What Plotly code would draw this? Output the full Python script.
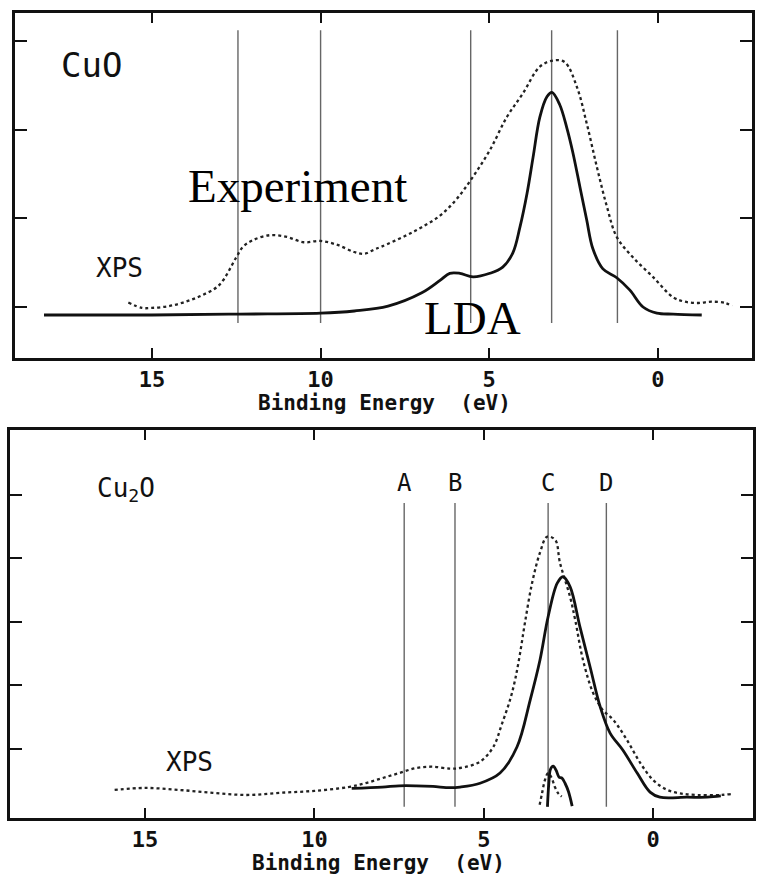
import plotly.graph_objects as go

# ---------------- CuO (top panel) ----------------
cuo_lda_e = [18.2, 15.0, 12.4, 10.0, 9.0, 8.0, 7.0, 6.46, 6.17, 5.87, 5.48, 4.98, 4.6, 4.3, 4.09, 3.88, 3.7, 3.5,
             3.29, 3.14, 2.91, 2.7, 2.52, 2.31, 2.11, 1.93, 1.63, 1.22, 0.83, 0.44, 0.03, -0.45, -1.3]
cuo_lda_i = [0.91, 0.91, 0.92, 0.93, 0.955, 1.01, 1.16, 1.30, 1.38, 1.38, 1.34, 1.38, 1.45, 1.61, 1.90, 2.28, 2.69, 3.14,
             3.37, 3.42, 3.28, 3.02, 2.74, 2.35, 1.98, 1.66, 1.43, 1.33, 1.19, 1.0, 0.93, 0.92, 0.91]

cuo_xps_e = [15.7, 15.3, 15.0, 14.5, 14.0, 13.5, 13.0, 12.5, 12.3, 12.0, 11.5, 11.0, 10.5, 10.0, 9.5, 9.0, 8.7, 8.4,
             8.2, 7.5, 7.0, 6.46, 5.96, 5.48, 4.98, 4.48, 4.0, 3.5, 3.1, 2.76, 2.4, 2.11, 1.81, 1.51, 1.22, 0.74,
             0.15, -0.45, -0.8, -1.2, -1.6, -2.0, -2.2]
cuo_xps_i = [1.05, 0.99, 0.99, 1.01, 1.06, 1.135, 1.25, 1.56, 1.68, 1.755, 1.81, 1.79, 1.73, 1.745, 1.70, 1.62, 1.60, 1.65,
             1.68, 1.80, 1.90, 2.03, 2.22, 2.47, 2.77, 3.14, 3.41, 3.71, 3.78, 3.76, 3.48, 3.07, 2.58, 2.13, 1.79, 1.56,
             1.34, 1.11, 1.06, 1.045, 1.06, 1.045, 1.01]

cuo_lines = [12.45, 10.0, 5.55, 3.15, 1.2]

# ---------------- Cu2O (bottom panel) ----------------
cu2o_xps_e = [15.9, 15.0, 14.0, 13.0, 12.0, 11.0, 10.0, 9.0, 8.5, 8.0, 7.5, 7.0, 6.5, 6.0, 5.7, 5.11, 4.72, 4.46,
              4.22, 4.07, 3.93, 3.78, 3.57, 3.34, 3.13, 2.89, 2.75, 2.45, 2.30, 2.07, 1.77, 1.48, 1.18, 0.77, 0.38,
              0.0, -0.4, -0.8, -1.3, -2.0, -2.3]
cu2o_xps_i = [0.355, 0.386, 0.355, 0.31, 0.275, 0.31, 0.34, 0.40, 0.46, 0.54, 0.62, 0.70, 0.72, 0.69, 0.70, 0.80, 1.03,
              1.40, 1.78, 2.10, 2.50, 3.00, 3.62, 4.09, 4.34, 4.29, 3.93, 3.39, 3.03, 2.40, 1.88, 1.61, 1.46, 1.14,
              0.78, 0.51, 0.36, 0.30, 0.275, 0.275, 0.29]

cu2o_lda_e = [8.9, 8.0, 7.5, 7.0, 6.5, 6.0, 5.7, 5.11, 4.52, 4.02, 3.63, 3.34, 3.1, 2.83, 2.66, 2.45, 2.16, 1.86,
              1.56, 1.27, 0.89, 0.47, 0.09, -0.2, -1.0, -1.6, -2.0]
cu2o_lda_i = [0.38, 0.40, 0.42, 0.42, 0.41, 0.39, 0.40, 0.46, 0.62, 1.03, 1.77, 2.40, 3.08, 3.61, 3.71, 3.55, 2.92,
              2.29, 1.66, 1.25, 0.98, 0.62, 0.32, 0.24, 0.24, 0.24, 0.26]

cu2o_small_lda_e = [3.12, 3.08, 3.03, 2.95, 2.86, 2.78, 2.69, 2.6, 2.5, 2.39]
cu2o_small_lda_i = [0.09, 0.45, 0.68, 0.73, 0.66, 0.56, 0.54, 0.46, 0.33, 0.10]
cu2o_small_xps_e = [3.35, 3.28, 3.2, 3.1, 3.0, 2.9, 2.8, 2.7]
cu2o_small_xps_i = [0.12, 0.30, 0.50, 0.62, 0.55, 0.40, 0.30, 0.25]

cu2o_lines = [7.35, 5.85, 3.1, 1.38]
cu2o_line_labels = ["A", "B", "C", "D"]

x_tickvals = [15, 10, 5, 0]
x_ticktext = ["<b>15</b>", "<b>10</b>", "<b>5</b>", "<b>0</b>"]
x_minor_ticks = list(range(-2, 19))
y_top_ticks = [1, 2, 3, 4]
y_bot_ticks = [1, 2, 3, 4, 5]

W, H = 761, 880


def px_dom(a, b, total):
    return [a / total, b / total]


fig = go.Figure()

solid = dict(color="#111111", width=2.8)
dotted = dict(color="#222222", width=2.3, dash="dot")
vline = dict(color="#666666", width=1.4)

# top panel vertical lines
for xv in cuo_lines:
    fig.add_trace(go.Scatter(x=[xv, xv], y=[0.82, 4.12], mode="lines", line=vline,
                             xaxis="x", yaxis="y", showlegend=False, hoverinfo="skip"))
fig.add_trace(go.Scatter(x=cuo_xps_e, y=cuo_xps_i, mode="lines", line=dotted, xaxis="x", yaxis="y",
                         showlegend=False, line_shape="spline"))
fig.add_trace(go.Scatter(x=cuo_lda_e, y=cuo_lda_i, mode="lines", line=solid, xaxis="x", yaxis="y",
                         showlegend=False, line_shape="spline"))

# bottom panel vertical lines
for xv in cu2o_lines:
    fig.add_trace(go.Scatter(x=[xv, xv], y=[0.09, 4.87], mode="lines", line=vline,
                             xaxis="x2", yaxis="y2", showlegend=False, hoverinfo="skip"))
fig.add_trace(go.Scatter(x=cu2o_xps_e, y=cu2o_xps_i, mode="lines", line=dotted, xaxis="x2", yaxis="y2",
                         showlegend=False, line_shape="spline"))
fig.add_trace(go.Scatter(x=cu2o_lda_e, y=cu2o_lda_i, mode="lines", line=solid, xaxis="x2", yaxis="y2",
                         showlegend=False, line_shape="spline"))
fig.add_trace(go.Scatter(x=cu2o_small_xps_e, y=cu2o_small_xps_i, mode="lines", line=dotted, xaxis="x2",
                         yaxis="y2", showlegend=False, line_shape="spline"))
fig.add_trace(go.Scatter(x=cu2o_small_lda_e, y=cu2o_small_lda_i, mode="lines", line=solid, xaxis="x2",
                         yaxis="y2", showlegend=False, line_shape="spline"))

tickfont = dict(family="DejaVu Sans Mono", size=22, color="#111111")

common_x = dict(tickmode="array", tickvals=x_tickvals, ticktext=x_ticktext, ticks="inside", ticklen=10, tickwidth=2,
                tickcolor="#111111", showline=True, linewidth=2.5, linecolor="#111111", mirror="allticks",
                showgrid=False, zeroline=False, tickfont=tickfont)
minor_x = dict(tickmode="array", tickvals=x_minor_ticks, ticks="inside", ticklen=5, tickwidth=1.5,
               tickcolor="#111111", showline=True, linewidth=2.5, linecolor="#111111", mirror="allticks",
               showgrid=False, zeroline=False, showticklabels=False)
common_y = dict(ticks="inside", ticklen=12, tickwidth=2, tickcolor="#111111", showline=True, linewidth=2.5,
                linecolor="#111111", mirror="allticks", showgrid=False, zeroline=False, showticklabels=False)

top_dom = px_dom(15, 752, W)
bot_dom = px_dom(10, 753, W)
top_range = [19.06, -2.79]
bot_range = [18.99, -2.95]

fig.update_layout(
    width=W, height=H,
    margin=dict(l=0, r=0, t=0, b=0),
    paper_bgcolor="white", plot_bgcolor="white",
    xaxis=dict(domain=top_dom, range=top_range, anchor="y", **common_x),
    yaxis=dict(domain=[1 - 358 / H, 1 - 13 / H], range=[0.425, 4.315], anchor="x", tickvals=y_top_ticks,
               **common_y),
    xaxis2=dict(domain=bot_dom, range=bot_range, anchor="y2", **common_x),
    yaxis2=dict(domain=[1 - 818 / H, 1 - 430 / H], range=[-0.087, 6.02], anchor="x2", tickvals=y_bot_ticks,
                **common_y),
    xaxis3=dict(domain=top_dom, range=top_range, anchor="y", overlaying="x", **minor_x),
    xaxis4=dict(domain=bot_dom, range=bot_range, anchor="y2", overlaying="x2", **minor_x),
)

mono = "DejaVu Sans Mono"
serif = "Liberation Serif"
ann = [
    dict(x=16.8, y=3.73, xref="x", yref="y", text="CuO", font=dict(family=mono, size=34, color="#111")),
    dict(x=15.95, y=1.44, xref="x", yref="y", text="XPS", font=dict(family=mono, size=26, color="#111")),
    dict(x=10.68, y=2.36, xref="x", yref="y", text="Experiment", font=dict(family=serif, size=47, color="#000")),
    dict(x=5.51, y=0.88, xref="x", yref="y", text="LDA", font=dict(family=serif, size=47, color="#000")),
    dict(x=15.56, y=5.08, xref="x2", yref="y2", text="Cu<sub>2</sub>O", font=dict(family=mono, size=26, color="#111")),
    dict(x=13.7, y=0.80, xref="x2", yref="y2", text="XPS", font=dict(family=mono, size=26, color="#111")),
    dict(x=8.1, y=1 - 403 / H, xref="x", yref="paper", text="<b>Binding Energy  (eV)</b>",
         font=dict(family=mono, size=21, color="#111")),
    dict(x=8.1, y=1 - 863 / H, xref="x2", yref="paper", text="<b>Binding Energy  (eV)</b>",
         font=dict(family=mono, size=21, color="#111")),
]
for xv, lab in zip(cu2o_lines, cu2o_line_labels):
    ann.append(dict(x=xv, y=5.19, xref="x2", yref="y2", text=lab, font=dict(family=mono, size=24, color="#111")))
for a in ann:
    a.update(showarrow=False, xanchor="center", yanchor="middle")
fig.update_layout(annotations=ann)

fig.write_html("out.html")
